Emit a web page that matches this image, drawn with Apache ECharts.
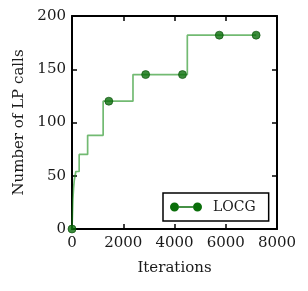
<!DOCTYPE html>
<html>
<head>
<meta charset="utf-8">
<script src="https://cdn.jsdelivr.net/npm/echarts@6/dist/echarts.min.js"></script>
<style>html,body{margin:0;padding:0;background:#fff}#c{width:308px;height:291px}</style>
</head>
<body>
<div id="c"></div>
<script>
// Step curve vertices (iterations, LP calls)
var stepX = [0, 15, 35, 60, 90, 150, 280, 280, 610, 610, 1215, 1215, 2380, 2380, 4500, 4500, 7190];
var stepY = [0, 12, 28, 38, 46, 54, 54, 70, 70, 88, 88, 120, 120, 145, 145, 182, 182];
// Marker points
var markX = [0, 1437, 2874, 4311, 5748, 7185];
var markY = [0, 120, 145, 145, 182, 182];
var xTicks = [0, 2000, 4000, 6000, 8000];
var yTicks = [0, 50, 100, 150, 200];

var lineData = stepX.map(function (x, i) { return [x, stepY[i]]; });
var markData = markX.map(function (x, i) { return [x, markY[i]]; });
var font = 'DejaVu Serif';
var txt = '#1a1a1a';
function mkAxis(kind, pos, withLabels) {
  var ticks = kind === 'x' ? xTicks : yTicks;
  var a = {
    type: 'value', position: pos,
    min: ticks[0], max: ticks[ticks.length - 1], interval: ticks[1] - ticks[0],
    axisLine: { show: true, onZero: false, lineStyle: { color: '#000', width: 2 } },
    axisTick: { show: true, inside: true, length: 5, lineStyle: { color: '#000', width: 1.5 } },
    splitLine: { show: false },
    axisLabel: { show: withLabels, fontFamily: font, fontSize: 15, color: txt,
      margin: kind === 'x' ? 7 : 6, formatter: function (v) { return String(v); } }
  };
  return a;
}
var xb = mkAxis('x', 'bottom', true);
xb.name = 'Iterations'; xb.nameLocation = 'middle'; xb.nameGap = 32;
xb.nameTextStyle = { fontFamily: font, fontSize: 15, color: txt };
var yl = mkAxis('y', 'left', true);
yl.name = 'Number of LP calls'; yl.nameLocation = 'middle'; yl.nameGap = 44;
yl.nameTextStyle = { fontFamily: font, fontSize: 15, color: txt };

var chart = echarts.init(document.getElementById('c'));
chart.setOption({
  animation: false,
  grid: { left: 72, right: 31, top: 16, bottom: 62 },
  xAxis: [xb, mkAxis('x', 'top', false)],
  yAxis: [yl, mkAxis('y', 'right', false)],
  legend: {
    left: 163, top: 193,
    orient: 'horizontal',
    padding: [7, 13, 7, 7],
    borderColor: '#000', borderWidth: 1.5, borderRadius: 0,
    itemWidth: 32, itemHeight: 9,
    textStyle: { fontFamily: font, fontSize: 14, color: txt, padding: [0, 0, 0, 6] },
    data: [{ name: 'LOCG',
      icon: 'path://M0,4.5 a4.5,4.5 0 1,0 9,0 a4.5,4.5 0 1,0 -9,0 Z M23,4.5 a4.5,4.5 0 1,0 9,0 a4.5,4.5 0 1,0 -9,0 Z M9,3.7 h14 v1.6 h-14 Z',
      itemStyle: { color: '#0a6e0a' } }]
  },
  series: [
    { name: 'LOCG', type: 'line', data: lineData, showSymbol: false, symbol: 'none',
      lineStyle: { color: 'rgba(20,140,20,0.6)', width: 1.7 }, itemStyle: { color: '#0a6e0a' } },
    { name: 'markers', type: 'scatter', data: markData, symbol: 'circle', symbolSize: 8,
      itemStyle: { color: '#0a6e0a', borderColor: '#064d06', borderWidth: 0.8 }, z: 3 },
    { name: 'frame', type: 'line', xAxisIndex: 1, yAxisIndex: 1, data: [], silent: true }
  ]
});
</script>
</body>
</html>
